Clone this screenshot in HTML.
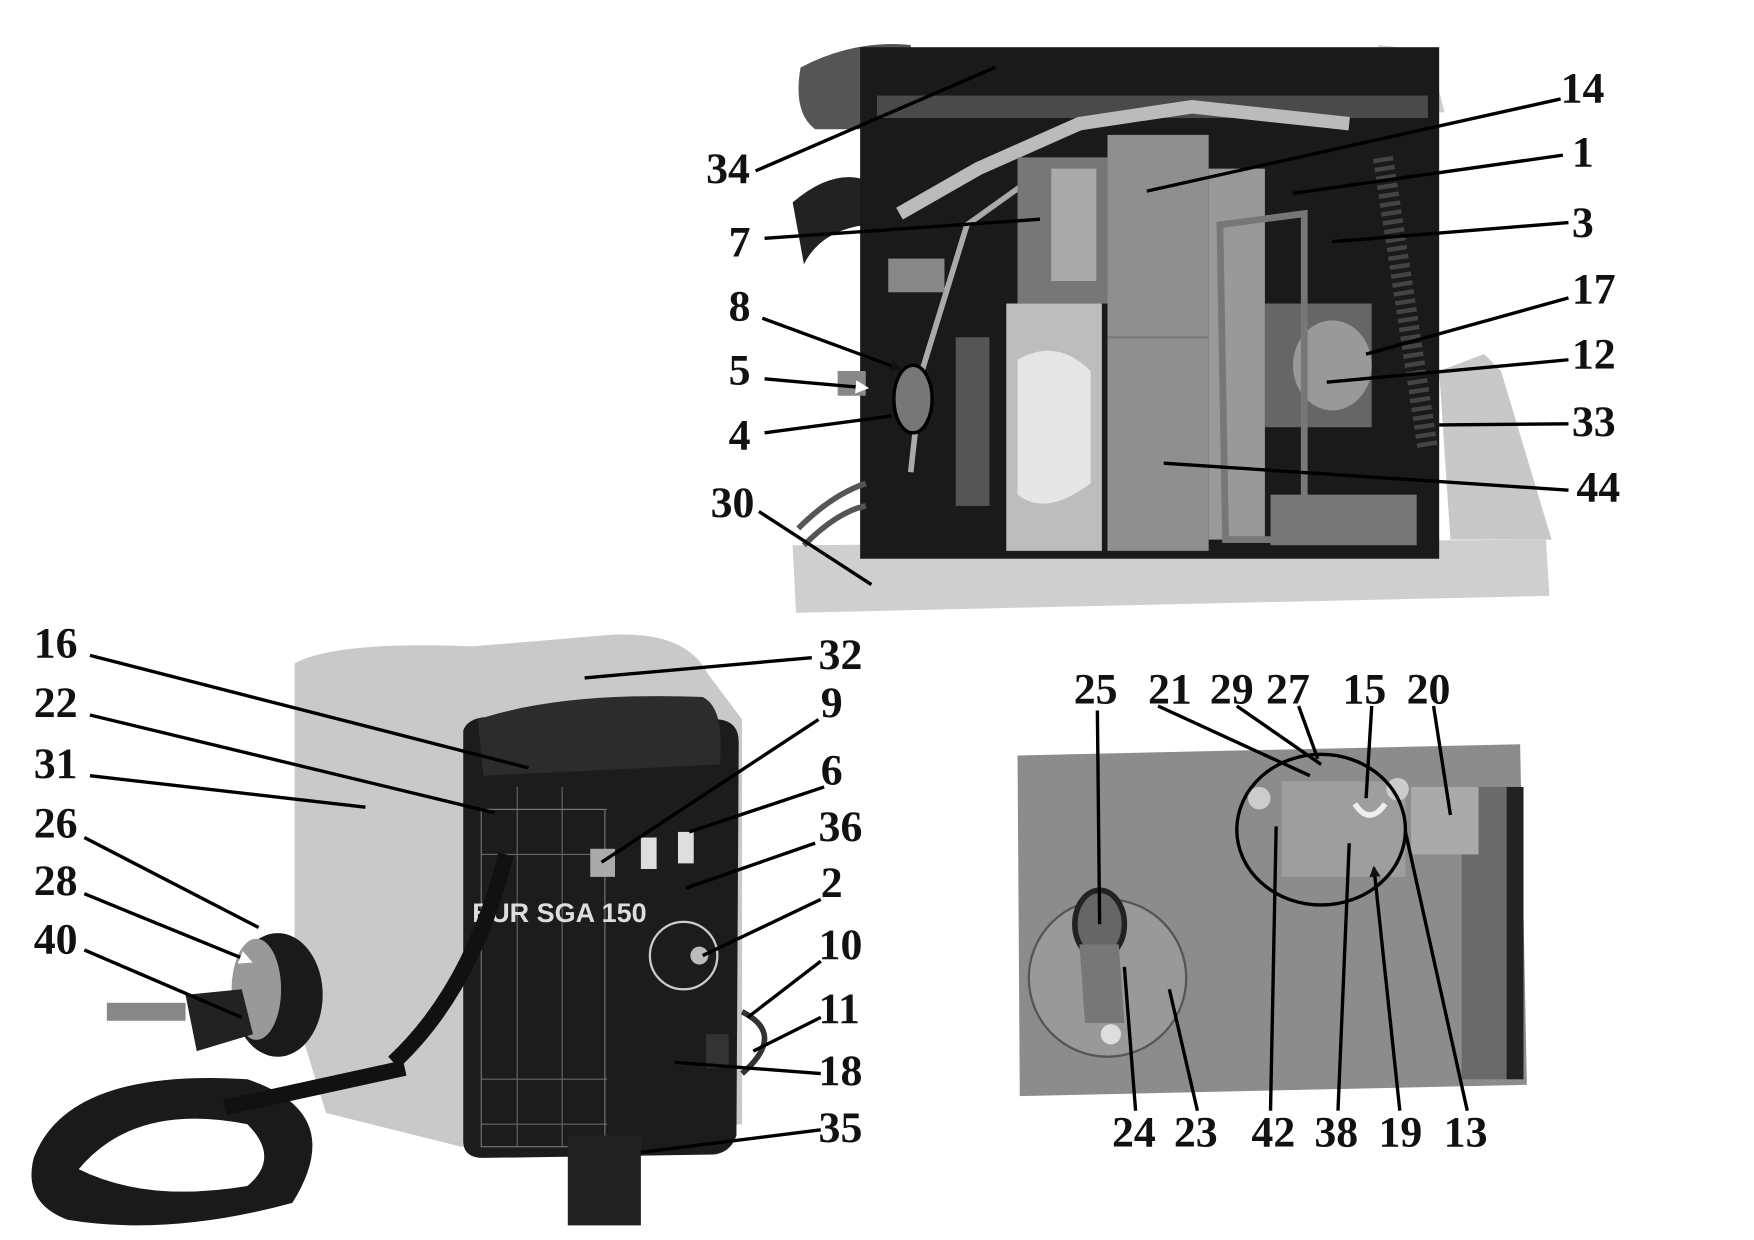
<!DOCTYPE html>
<html><head><meta charset="utf-8"><style>
html,body{margin:0;padding:0;background:#fff;}
svg{display:block;}
text{font-family:"Liberation Serif",serif;font-weight:bold;font-size:39px;fill:#111;}
</style></head><body>
<svg width="1754" height="1240" viewBox="0 0 1560 1103" preserveAspectRatio="none" xmlns="http://www.w3.org/2000/svg">
<defs>
<marker id="ar" markerWidth="10" markerHeight="10" refX="8" refY="5" orient="auto" markerUnits="userSpaceOnUse"><path d="M0,0 L10,5 L0,10 z" fill="#111"/></marker>
<marker id="aw" markerWidth="12" markerHeight="12" refX="9" refY="6" orient="auto" markerUnits="userSpaceOnUse"><path d="M0,0 L12,6 L0,12 z" fill="#fff"/></marker>
</defs>

<!-- TOP PHOTO -->
<path d="M1225,40 L1270,45 L1285,100 L1275,100 z" fill="#d0d0d0"/>
<path d="M1280,330 L1320,315 L1335,330 L1380,480 L1290,480 z" fill="#c8c8c8"/>
<path d="M705,485 L1375,480 L1378,530 L708,545 z" fill="#cfcfcf"/>
<path d="M712,60 Q760,35 810,40 L815,115 L725,115 Q705,100 712,60 z" fill="#555"/>
<path d="M705,180 Q740,150 770,160 L770,200 Q730,205 715,235 z" fill="#222"/>
<rect x="765" y="42" width="515" height="455" fill="#1a1a1a"/>
<rect x="780" y="85" width="490" height="20" fill="#4a4a4a"/>
<path d="M800,190 L870,150 L960,110 L1060,95 L1200,110" stroke="#bbb" stroke-width="12" fill="none"/>
<path d="M810,420 L820,330 L860,200 L930,150" stroke="#aaa" stroke-width="5" fill="none"/>
<rect x="790" y="230" width="50" height="30" fill="#888"/>
<rect x="850" y="300" width="30" height="150" fill="#555"/>
<rect x="895" y="270" width="85" height="220" fill="#bdbdbd"/>
<path d="M905,320 Q940,300 970,330 L970,430 Q930,460 905,440 z" fill="#e6e6e6"/>
<rect x="905" y="140" width="80" height="130" fill="#777"/>
<rect x="935" y="150" width="40" height="100" fill="#aaa"/>
<rect x="985" y="120" width="90" height="370" fill="#8f8f8f"/>
<line x1="985" y1="300" x2="1075" y2="300" stroke="#7a7a7a" stroke-width="2"/>
<rect x="1075" y="150" width="50" height="330" fill="#999"/>
<rect x="1125" y="270" width="95" height="110" fill="#666"/>
<ellipse cx="1185" cy="325" rx="35" ry="40" fill="#999"/>
<path d="M1085,200 L1160,190 L1160,480 L1090,480 z" fill="none" stroke="#777" stroke-width="6"/>
<rect x="1130" y="440" width="130" height="45" fill="#777"/>
<path d="M1230,140 L1270,400" stroke="#444" stroke-width="18" stroke-dasharray="4 4"/>
<ellipse cx="812" cy="355" rx="17" ry="30" fill="#777" stroke="#000" stroke-width="3"/>
<rect x="745" y="330" width="25" height="22" fill="#888"/>
<path d="M710,470 Q740,440 770,430 M715,485 Q745,455 770,450" stroke="#555" stroke-width="5" fill="none"/>

<!-- top leaders -->
<g stroke="#000" stroke-width="3" fill="none">
<line x1="672" y1="152" x2="885" y2="60"/>
<line x1="680" y1="212" x2="925" y2="195"/>
<line x1="678" y1="283" x2="800" y2="328" marker-end="url(#ar)"/>
<line x1="680" y1="337" x2="770" y2="345" marker-end="url(#aw)"/>
<line x1="680" y1="385" x2="793" y2="370"/>
<line x1="675" y1="455" x2="775" y2="520"/>
<line x1="1388" y1="88" x2="1020" y2="170"/>
<line x1="1390" y1="138" x2="1150" y2="172"/>
<line x1="1395" y1="198" x2="1185" y2="215"/>
<line x1="1395" y1="265" x2="1215" y2="315"/>
<line x1="1395" y1="320" x2="1180" y2="340"/>
<line x1="1395" y1="377" x2="1280" y2="378"/>
<line x1="1395" y1="436" x2="1035" y2="412"/>
</g>
<text x="628" y="163">34</text>
<text x="648" y="228">7</text>
<text x="648" y="285">8</text>
<text x="648" y="342">5</text>
<text x="648" y="400">4</text>
<text x="632" y="460">30</text>
<text x="1388" y="91">14</text>
<text x="1398" y="148">1</text>
<text x="1398" y="211">3</text>
<text x="1398" y="270">17</text>
<text x="1398" y="328">12</text>
<text x="1398" y="388">33</text>
<text x="1402" y="446">44</text>

<!-- MACHINE -->
<path d="M262,590 Q300,570 420,575 L540,565 Q610,560 630,600 L660,640 L660,1000 L410,1020 L290,990 L262,900 z" fill="#c9c9c9"/>
<path d="M412,650 Q415,640 430,638 L640,640 Q657,642 657,660 L655,1010 Q650,1025 635,1027 L430,1030 Q412,1030 412,1015 z" fill="#1c1c1c"/>
<path d="M425,640 Q500,615 625,620 Q645,630 640,680 L430,690 z" fill="#2c2c2c"/>
<g stroke="#666" stroke-width="1">
<line x1="428" y1="720" x2="540" y2="720"/><line x1="428" y1="760" x2="540" y2="760"/>
<line x1="428" y1="960" x2="540" y2="960"/><line x1="428" y1="1000" x2="540" y2="1000"/>
<line x1="460" y1="700" x2="460" y2="1020"/><line x1="500" y1="700" x2="500" y2="1020"/>
</g>
<rect x="428" y="720" width="110" height="300" fill="none" stroke="#777" stroke-width="1"/>
<rect x="525" y="755" width="22" height="25" fill="#aaa"/>
<rect x="570" y="745" width="14" height="28" fill="#ddd"/>
<rect x="603" y="740" width="14" height="28" fill="#ddd"/>
<circle cx="608" cy="850" r="30" fill="none" stroke="#ccc" stroke-width="2"/>
<circle cx="622" cy="850" r="8" fill="#bbb"/>
<text x="420" y="820" style="font-size:24px;fill:#ddd;font-family:'Liberation Sans',sans-serif">EUR  SGA 150</text>
<path d="M350,945 Q420,880 450,760" stroke="#111" stroke-width="14" fill="none"/>
<path d="M30,1030 Q60,950 220,960 Q310,990 260,1070 Q150,1100 60,1085 Q20,1070 30,1030 z M70,1040 Q120,980 220,1000 Q250,1030 220,1055 Q130,1070 70,1040 z" fill="#1a1a1a" fill-rule="evenodd"/>
<path d="M200,985 L360,950" stroke="#111" stroke-width="14"/>
<ellipse cx="247" cy="885" rx="40" ry="55" fill="#1a1a1a"/>
<ellipse cx="228" cy="880" rx="22" ry="45" fill="#999"/>
<rect x="95" y="892" width="70" height="16" fill="#888"/>
<path d="M165,885 L215,880 L225,920 L175,935 z" fill="#222"/>
<rect x="505" y="1010" width="65" height="80" fill="#222"/>
<rect x="628" y="920" width="20" height="30" fill="#333"/>
<path d="M660,900 Q700,920 660,955" stroke="#333" stroke-width="5" fill="none"/>

<g stroke="#000" stroke-width="3" fill="none">
<line x1="80" y1="583" x2="470" y2="683"/>
<line x1="80" y1="636" x2="440" y2="723"/>
<line x1="80" y1="690" x2="325" y2="718"/>
<line x1="75" y1="745" x2="230" y2="825"/>
<line x1="75" y1="795" x2="222" y2="855" marker-end="url(#aw)"/>
<line x1="75" y1="845" x2="215" y2="905"/>
<line x1="722" y1="585" x2="520" y2="603"/>
<line x1="728" y1="640" x2="535" y2="767"/>
<line x1="733" y1="700" x2="613" y2="740"/>
<line x1="725" y1="750" x2="610" y2="790"/>
<line x1="730" y1="800" x2="625" y2="850"/>
<line x1="730" y1="855" x2="665" y2="905"/>
<line x1="730" y1="905" x2="670" y2="935"/>
<line x1="730" y1="955" x2="600" y2="945"/>
<line x1="730" y1="1005" x2="570" y2="1025"/>
</g>
<text x="30" y="585">16</text>
<text x="30" y="638">22</text>
<text x="30" y="692">31</text>
<text x="30" y="745">26</text>
<text x="30" y="796">28</text>
<text x="30" y="848">40</text>
<text x="728" y="595">32</text>
<text x="730" y="638">9</text>
<text x="730" y="698">6</text>
<text x="728" y="748">36</text>
<text x="730" y="798">2</text>
<text x="728" y="853">10</text>
<text x="728" y="910">11</text>
<text x="728" y="965">18</text>
<text x="728" y="1016">35</text>

<!-- BOTTOM RIGHT PHOTO -->
<path d="M905,672 L1352,662 L1358,965 L907,975 z" fill="#8c8c8c"/>
<rect x="1300" y="700" width="55" height="260" fill="#6a6a6a"/>
<rect x="1340" y="700" width="15" height="260" fill="#222"/>
<rect x="1255" y="700" width="60" height="60" fill="#aaa"/>
<rect x="1140" y="695" width="110" height="85" fill="#9e9e9e"/>
<circle cx="1120" cy="710" r="10" fill="#ccc"/><circle cx="1243" cy="702" r="10" fill="#ccc"/>
<path d="M1205,715 Q1218,735 1232,715" stroke="#eee" stroke-width="5" fill="none"/>
<ellipse cx="1175" cy="738" rx="75" ry="67" fill="none" stroke="#000" stroke-width="3"/>
<ellipse cx="985" cy="870" rx="70" ry="70" fill="#999" stroke="#555" stroke-width="2"/>
<ellipse cx="978" cy="822" rx="22" ry="30" fill="#666" stroke="#222" stroke-width="5"/>
<path d="M960,840 L995,840 L1000,910 L965,910 z" fill="#777"/>
<circle cx="988" cy="920" r="9" fill="#ddd"/>

<g stroke="#000" stroke-width="3" fill="none">
<line x1="976" y1="632" x2="978" y2="822"/>
<line x1="1030" y1="628" x2="1165" y2="690"/>
<line x1="1100" y1="628" x2="1175" y2="680"/>
<line x1="1155" y1="628" x2="1172" y2="675"/>
<line x1="1220" y1="628" x2="1215" y2="710"/>
<line x1="1275" y1="628" x2="1290" y2="725"/>
<line x1="1010" y1="988" x2="1000" y2="860"/>
<line x1="1065" y1="988" x2="1040" y2="880"/>
<line x1="1130" y1="988" x2="1135" y2="735"/>
<line x1="1190" y1="988" x2="1200" y2="750"/>
<line x1="1245" y1="988" x2="1222" y2="772" marker-end="url(#ar)"/>
<line x1="1305" y1="988" x2="1250" y2="740"/>
</g>
<text x="955" y="626">25</text>
<text x="1021" y="626">21</text>
<text x="1076" y="626">29</text>
<text x="1126" y="626">27</text>
<text x="1194" y="626">15</text>
<text x="1251" y="626">20</text>
<text x="989" y="1020">24</text>
<text x="1044" y="1020">23</text>
<text x="1113" y="1020">42</text>
<text x="1169" y="1020">38</text>
<text x="1226" y="1020">19</text>
<text x="1284" y="1020">13</text>
</svg>
</body></html>
